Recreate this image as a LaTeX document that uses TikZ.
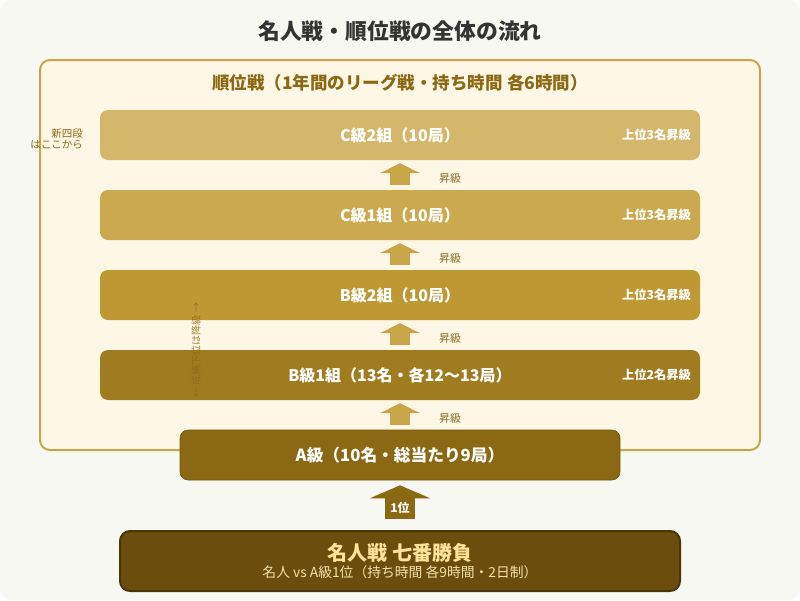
\documentclass[tikz,border=0pt]{standalone}
\usepackage{fontspec}
\setmainfont{Noto Sans CJK JP}
\usetikzlibrary{arrows.meta,calc}
\definecolor{bgc}{HTML}{F8F8F3}
\definecolor{cream}{HTML}{FFF7E6}
\definecolor{gold}{HTML}{C9A54A}
\definecolor{brown}{HTML}{8B6914}
\definecolor{titlec}{HTML}{333333}
\definecolor{tc2}{HTML}{D4B76A}
\definecolor{tc1}{HTML}{CBAA4F}
\definecolor{tb2}{HTML}{BD9833}
\definecolor{tb1}{HTML}{A07C20}
\definecolor{ta}{HTML}{8B6914}
\definecolor{tmeijin}{HTML}{6B4E0E}
\definecolor{tmeijinb}{HTML}{4A3608}
\definecolor{ylw}{HTML}{FFE49A}
\definecolor{ylw2}{HTML}{F5E0A8}
\newcommand{\fsz}[1]{\fontsize{#1}{#1}\selectfont}
\begin{document}
\begin{tikzpicture}[x=1pt,y=-1pt,
  tier/.style={rounded corners=8pt, minimum width=600pt, minimum height=50pt, inner sep=0pt,
    text=white, font=\fsz{16}\bfseries},
  rlabel/.style={anchor=east, text=white, font=\fsz{12.3}\bfseries, inner sep=0pt},
  fatup/.style={draw=gold, line width=20pt, -{Triangle[width=40pt,length=10pt]}},
  uplabel/.style={text=brown!85!gray, font=\fsz{11}, inner sep=0pt},
]
\fill[white] (0,0) rectangle (800,600);
\fill[bgc, rounded corners=12pt] (0,0) rectangle (800,600);
\useasboundingbox (0,0) rectangle (800,600);

\node[text=titlec, font=\fsz{21.8}\bfseries] (title) at (400,31) {名人戦・順位戦の全体の流れ};

\node[draw=gold, line width=2pt, fill=cream, rounded corners=10pt, minimum width=720pt,
  minimum height=390pt, inner sep=0pt] (outer) at (400,255) {};
\node[text=brown, font=\fsz{17.5}\bfseries] (sub) at (400,83) {順位戦（1年間のリーグ戦・持ち時間 各6時間）};

\node[tier, fill=tc2] (c2) at (400,135) {C級2組（10局）};
\node[tier, fill=tc1] (c1) at (400,215) {C級1組（10局）};
\node[tier, fill=tb2] (b2) at (400,295) {B級2組（10局）};
\node[tier, fill=tb1] (b1) at (400,375) {B級1組（13名・各12～13局）};

\node[rlabel] (c2r) at ([xshift=-9pt]c2.east) {上位3名昇級};
\node[rlabel] (c1r) at ([xshift=-9pt]c1.east) {上位3名昇級};
\node[rlabel] (b2r) at ([xshift=-9pt]b2.east) {上位3名昇級};
\node[rlabel] (b1r) at ([xshift=-9pt]b1.east) {上位2名昇級};

\node[rounded corners=8pt, minimum width=440pt, minimum height=50pt, inner sep=0pt,
  fill=ta, draw=ta!85!black, line width=0.6pt, text=white, font=\fsz{16.7}\bfseries] (a) at (400,455) {A級（10名・総当たり9局）};

\node[rounded corners=10pt, minimum width=560pt, minimum height=60pt, inner sep=0pt,
  fill=tmeijin, draw=tmeijinb, line width=2pt, align=center] (meijin) at (400,561)
  {{\color{ylw}\fontsize{20}{24}\selectfont\bfseries 名人戦 七番勝負}\\[3pt]
   {\color{ylw2}\fontsize{13.8}{16}\selectfont 名人 vs A級1位（持ち時間 各9時間・2日制）}};

\draw[fatup] ($(c1.north)+(0,-5)$) -- ($(c2.south)+(0,3)$) node[midway, xshift=50pt, yshift=-4pt, uplabel] (l1) {昇級};
\draw[fatup] ($(b2.north)+(0,-5)$) -- ($(c1.south)+(0,3)$) node[midway, xshift=50pt, yshift=-4pt, uplabel] (l2) {昇級};
\draw[fatup] ($(b1.north)+(0,-5)$) -- ($(b2.south)+(0,3)$) node[midway, xshift=50pt, yshift=-4pt, uplabel] (l3) {昇級};
\draw[fatup] ($(a.north)+(0,-5)$) -- ($(b1.south)+(0,3)$) node[midway, xshift=50pt, yshift=-4pt, uplabel] (l4) {昇級};

\draw[draw=ta, line width=30pt, -{Triangle[width=60pt,length=13pt]}]
  ($(meijin.north)+(0,-11)$) -- ($(a.south)+(0,5)$);
\node[text=white, font=\fsz{12}\bfseries, inner sep=0pt] (one) at (400,508) {1位};

\node[rotate=90, text=brown, opacity=0.8, font=\fsz{10}, inner sep=0pt] (down) at (196,350) {← 成績下位は降級 →};

\node[align=right, anchor=east, text=brown, font=\fontsize{10.5}{9}\selectfont, inner sep=0pt] (new4) at (83,139) {新四段\\はここから};
\end{tikzpicture}
\end{document}
